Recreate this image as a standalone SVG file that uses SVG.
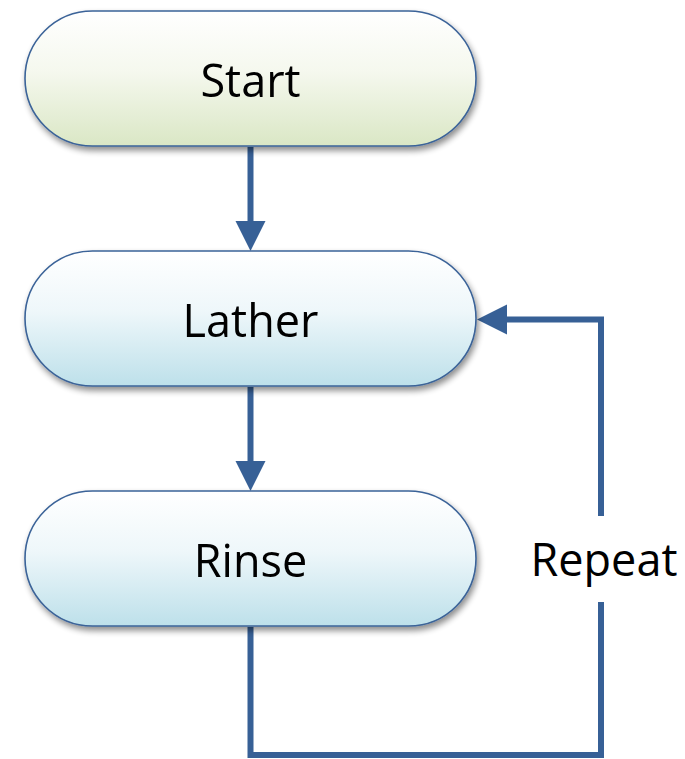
<svg xmlns="http://www.w3.org/2000/svg" width="685" height="759" viewBox="0 0 685 759">
  <style>
    .node { stroke: #3b6398; stroke-width: 1.6; }
    .label { font-family: "Open Sans", "Liberation Sans", sans-serif; font-size: 45px; fill: #000; text-anchor: middle; }
    .conn { fill: none; stroke: #376096; stroke-width: 6; stroke-linejoin: miter; stroke-linecap: butt; }
    .head { fill: #376096; }
  </style>
  <defs>
    <linearGradient id="gGreen" x1="0" y1="0" x2="0" y2="1">
      <stop offset="0" stop-color="#ffffff"/>
      <stop offset="0.45" stop-color="#f5f8ee"/>
      <stop offset="1" stop-color="#dae7c5"/>
    </linearGradient>
    <linearGradient id="gBlue" x1="0" y1="0" x2="0" y2="1">
      <stop offset="0" stop-color="#ffffff"/>
      <stop offset="0.45" stop-color="#eef7fa"/>
      <stop offset="1" stop-color="#bde0ea"/>
    </linearGradient>
    <filter id="shadow" x="-10%" y="-10%" width="125%" height="140%">
      <feGaussianBlur in="SourceAlpha" stdDeviation="3"/>
      <feOffset dx="2" dy="4" result="b"/>
      <feComponentTransfer><feFuncA type="linear" slope="0.45"/></feComponentTransfer>
      <feMerge><feMergeNode/><feMergeNode in="SourceGraphic"/></feMerge>
    </filter>
  </defs>

  <!-- connectors -->
  <g id="connectors">
    <line class="conn" x1="250.5" y1="147" x2="250.5" y2="222"/>
    <polygon class="head" points="235.5,221 265.5,221 250.5,251"/>
    <line class="conn" x1="250.5" y1="387" x2="250.5" y2="462"/>
    <polygon class="head" points="235.5,461 265.5,461 250.5,491"/>
    <!-- repeat loop: bottom of Rinse, around, back into Lather -->
    <polyline class="conn" points="250.5,627 250.5,755 601,755 601,602"/>
    <polyline class="conn" points="601,516 601,319.5 505,319.5"/>
    <polygon class="head" points="507,304.5 507,334.5 477,319.5"/>
  </g>

  <g id="start" filter="url(#shadow)">
    <rect class="node" x="25" y="11" width="451" height="135" rx="67.5" ry="67.5" fill="url(#gGreen)"/>
    <text class="label" x="250.5" y="97">Start</text>
  </g>

  <g id="lather" filter="url(#shadow)">
    <rect class="node" x="25" y="251" width="451" height="135" rx="67.5" ry="67.5" fill="url(#gBlue)"/>
    <text class="label" x="250.5" y="337">Lather</text>
  </g>

  <g id="rinse" filter="url(#shadow)">
    <rect class="node" x="25" y="491" width="451" height="135" rx="67.5" ry="67.5" fill="url(#gBlue)"/>
    <text class="label" x="250.5" y="577">Rinse</text>
  </g>

  <g id="repeat-label">
    <text class="label" x="604" y="576">Repeat</text>
  </g>
</svg>
